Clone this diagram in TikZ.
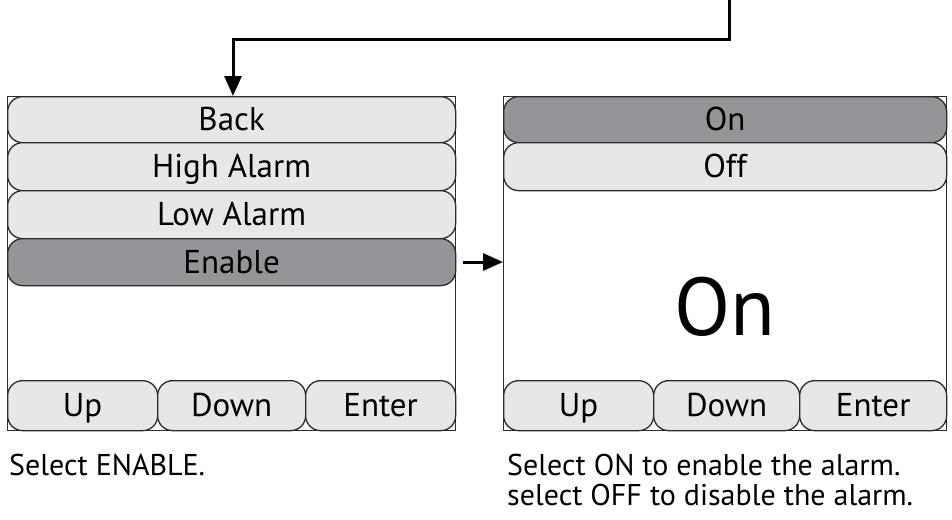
\documentclass[tikz,border=0pt]{standalone}
\usepackage{fontspec}
\setmainfont{PT Sans}
\usetikzlibrary{arrows.meta}
\definecolor{btnlight}{HTML}{E6E7E8}
\definecolor{btnsel}{HTML}{939598}
\definecolor{edge}{HTML}{2B2B2B}
\tikzset{
  frame/.style={draw=edge, line width=1.3pt, rectangle, anchor=north west, inner sep=0pt},
  menubtn/.style={draw=edge, line width=1.3pt, fill=btnlight, rectangle, rounded corners=15pt,
    anchor=north west, inner sep=0pt, text height=22pt, text depth=0pt,
    font=\fontsize{33}{36}\selectfont},
  selbtn/.style={menubtn, fill=btnsel},
  caption/.style={anchor=base west, inner sep=0pt, font=\fontsize{30}{30}\selectfont},
  flow/.style={line width=3pt, -{Triangle[length=20pt, width=17pt]}}
}
\begin{document}
\begin{tikzpicture}[x=1pt, y=-1pt]
  \useasboundingbox (0,0) rectangle (952,519);
  % left screen
  \node[frame, minimum width=448pt, minimum height=334pt] (lscreen) at (7,96) {};
  \node[menubtn, minimum width=448pt, minimum height=46pt] (back) at (7,96) {Back};
  \node[menubtn, minimum width=448pt, minimum height=48pt] (high) at (7,142) {High Alarm};
  \node[menubtn, minimum width=448pt, minimum height=48pt] (low) at (7,190) {Low Alarm};
  \node[selbtn, minimum width=448pt, minimum height=47pt] (enable) at (7,238) {Enable};
  \node[menubtn, minimum width=150pt, minimum height=50pt] (lup) at (7,380) {Up};
  \node[menubtn, minimum width=148pt, minimum height=50pt] (ldown) at (157,380) {Down};
  \node[menubtn, minimum width=150pt, minimum height=50pt] (lenter) at (305,380) {Enter};
  % right screen
  \node[frame, minimum width=443pt, minimum height=334pt] (rscreen) at (503,96) {};
  \node[selbtn, minimum width=443pt, minimum height=46pt] (on) at (503,96) {On};
  \node[menubtn, minimum width=443pt, minimum height=48pt] (off) at (503,142) {Off};
  \node[font=\fontsize{82}{90}\selectfont, inner sep=0pt, anchor=base] (state) at (725,335) {On};
  \node[menubtn, minimum width=150pt, minimum height=50pt] (rup) at (503,380) {Up};
  \node[menubtn, minimum width=146pt, minimum height=50pt] (rdown) at (653,380) {Down};
  \node[menubtn, minimum width=147pt, minimum height=50pt] (renter) at (799,380) {Enter};
  % captions
  \node[caption] (lcap) at (9,475) {Select ENABLE.};
  \node[caption] (rcapa) at (507,475) {Select ON to enable the alarm.};
  \node[caption] (rcapb) at (507,505) {select OFF to disable the alarm.};
  % connectors
  \coordinate (src) at (729,0);
  \draw[flow] (src) |- (233,40) -- (back.north -| 233,0);
  \coordinate (hstart) at (463,262);
  \draw[flow] (hstart) -- (rscreen.west |- hstart);
\end{tikzpicture}
\end{document}
